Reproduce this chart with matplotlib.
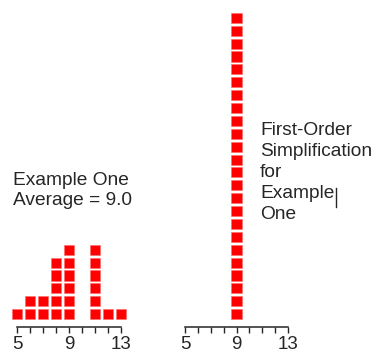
import numpy as np
import matplotlib.pyplot as plt
from matplotlib.patches import Rectangle
from matplotlib.lines import Line2D

# dot-plot data: value -> number of stacked squares
values = [5, 6, 7, 8, 9, 10, 11, 12, 13]
counts_example = [1, 2, 2, 5, 6, 0, 6, 1, 1]
counts_simplified = [0, 0, 0, 0, 24, 0, 0, 0, 0]

major_ticks = [5, 9, 13]
left_text = "Example One\nAverage = 9.0"
right_text = "First-Order\nSimplification\nfor\nExample\nOne"

RED = "#ff0000"
INK = "#262626"
plt.rcParams["font.family"] = ["Liberation Sans", "DejaVu Sans"]

W, H = 383, 358
fig = plt.figure(figsize=(W / 100, H / 100), dpi=100)


def dot_panel(left_px, right_px):
    # axes placed in pixel units, converted to figure fractions
    ax = fig.add_axes([left_px / W, 31 / H, (right_px - left_px) / W, 322 / H])
    ax.set_xlim(4.4, 13.6)
    ax.set_ylim(-1.0, 24.0)
    for side in ["top", "left", "right"]:
        ax.spines[side].set_visible(False)
    ax.spines["bottom"].set_bounds(5, 13)
    ax.spines["bottom"].set_linewidth(1.1)
    ax.spines["bottom"].set_color(INK)
    ax.set_yticks([])
    ax.set_xticks(major_ticks)
    ax.set_xticks(values, minor=True)
    ax.tick_params(axis="x", which="both", direction="out", length=4.5,
                   width=1.0, color=INK, labelsize=13.5, pad=2,
                   labelcolor=INK)
    ax.patch.set_visible(False)
    return ax


def draw_stacks(ax, counts):
    s = 0.78
    for v, c in zip(values, counts):
        for k in range(c):
            ax.add_patch(Rectangle((v - s / 2, k - s / 2), s, s,
                                   facecolor=RED, edgecolor="#ff6a6a",
                                   linewidth=0.4))


ax1 = dot_panel(9.2, 128.8)
draw_stacks(ax1, counts_example)

ax2 = dot_panel(177.3, 295.7)
draw_stacks(ax2, counts_simplified)

fig.text(13 / W, 1 - 172 / H, left_text, ha="left", va="top",
         fontsize=13.8, color=INK, linespacing=1.22)
fig.text(260 / W, 1 - 122 / H, right_text, ha="left", va="top",
         fontsize=13.8, color=INK, linespacing=1.3)

# text-cursor bar after "Example"
fig.add_artist(Line2D([336 / W, 336 / W], [1 - 188 / H, 1 - 207 / H],
                      transform=fig.transFigure, color=INK, linewidth=1.0))

fig.savefig("out.png", dpi=100)
